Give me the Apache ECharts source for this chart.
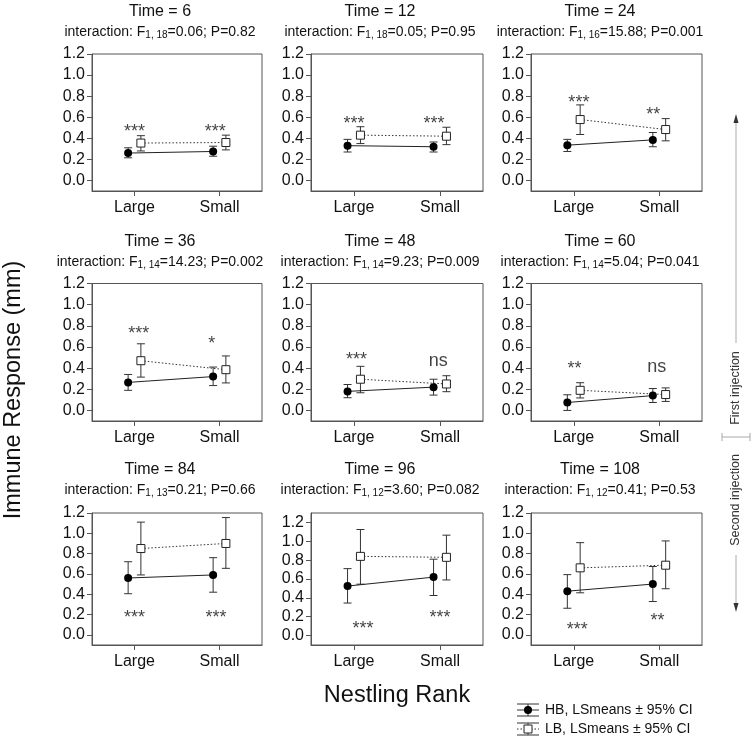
<!DOCTYPE html>
<html><head><meta charset="utf-8">
<script src="https://cdn.jsdelivr.net/npm/echarts@6/dist/echarts.min.js"></script>
<style>html,body{margin:0;padding:0;background:#fff}#c{width:754px;height:741px}</style>
</head><body><div id="c"></div>
<script>
// ---------- DATA ----------
const times = [6, 12, 24, 36, 48, 60, 84, 96, 108];
const rankLabels = ['Large', 'Small'];
const dfText = ['1, 18', '1, 18', '1, 16', '1, 14', '1, 14', '1, 14', '1, 13', '1, 12', '1, 12'];
const fText = ['0.06', '0.05', '15.88', '14.23', '9.23', '5.04', '0.21', '3.60', '0.41'];
const pText = ['0.82', '0.95', '0.001', '0.002', '0.009', '0.041', '0.66', '0.082', '0.53'];

// HB: [Large, Small]
const hbMean = [[0.26, 0.275], [0.33, 0.32], [0.335, 0.385], [0.265, 0.32], [0.18, 0.22], [0.075, 0.14], [0.56, 0.59], [0.525, 0.62], [0.43, 0.50]];
const hbLow  = [[0.215, 0.23], [0.27, 0.27], [0.275, 0.32], [0.19, 0.235], [0.12, 0.145], [0.0, 0.075], [0.405, 0.42], [0.345, 0.425], [0.262, 0.328]];
const hbHigh = [[0.31, 0.325], [0.39, 0.365], [0.39, 0.455], [0.34, 0.41], [0.245, 0.295], [0.148, 0.207], [0.72, 0.76], [0.71, 0.81], [0.593, 0.673]];
// LB: [Large, Small]
const lbMean = [[0.355, 0.36], [0.43, 0.42], [0.578, 0.483], [0.47, 0.385], [0.295, 0.25], [0.19, 0.15], [0.85, 0.90], [0.84, 0.83], [0.66, 0.686]];
const lbLow  = [[0.28, 0.29], [0.35, 0.34], [0.436, 0.376], [0.315, 0.26], [0.167, 0.177], [0.118, 0.085], [0.59, 0.655], [0.545, 0.59], [0.414, 0.454]];
const lbHigh = [[0.425, 0.43], [0.51, 0.505], [0.717, 0.587], [0.63, 0.515], [0.417, 0.328], [0.262, 0.213], [1.11, 1.155], [1.125, 1.065], [0.908, 0.925]];

// significance annotations [Large, Small]
const sigText = [['***', '***'], ['***', '***'], ['***', '**'], ['***', '*'], ['***', 'ns'], ['**', 'ns'], ['***', '***'], ['***', '***'], ['***', '**']];
const sigX = [[1.0, 1.95], [1.0, 1.93], [1.06, 1.93], [1.05, 1.91], [1.03, 1.98], [1.01, 1.97], [1.0, 1.96], [1.105, 2.0], [1.04, 1.98]];
const sigY = [[0.51, 0.51], [0.587, 0.587], [0.78, 0.67], [0.767, 0.672], [0.52, 0.467], [0.443, 0.41], [0.215, 0.215], [0.127, 0.234], [0.10, 0.19]];

const yTicks = [0, 0.2, 0.4, 0.6, 0.8, 1.0, 1.2];
const yMax = [1.2, 1.2, 1.2, 1.2, 1.2, 1.2, 1.2, 1.3, 1.2];

// ---------- LAYOUT ----------
const FONT = "'Liberation Sans', Arial, Helvetica, sans-serif";
const colLeft = [92, 311, 531], colWidth = [170, 172, 171];
const rowTop = [54, 283.5, 513], rowHeight = [137, 137.5, 132];
const titleX = [160, 380, 600], titleY = [12, 242, 470], subY = [32, 262, 490];
const OFF = 0.075;
const INK = '#111';

function errRender(params, api) {
  const x = api.value(0), lo = api.value(1), hi = api.value(2);
  const a = api.coord([x, lo]), b = api.coord([x, hi]);
  const w = 4, st = { stroke: '#333', lineWidth: 1 };
  return { type: 'group', children: [
    { type: 'line', shape: { x1: a[0], y1: a[1], x2: b[0], y2: b[1] }, style: st },
    { type: 'line', shape: { x1: a[0] - w, y1: a[1], x2: a[0] + w, y2: a[1] }, style: st },
    { type: 'line', shape: { x1: b[0] - w, y1: b[1], x2: b[0] + w, y2: b[1] }, style: st }
  ]};
}

function txt(x, y, text, size, extra, fill) {
  return Object.assign({ type: 'text', x: x, y: y, silent: true,
    style: { text: text, fontSize: size, fontFamily: FONT, fill: fill || INK,
      textAlign: 'center', align: 'center', textVerticalAlign: 'middle', verticalAlign: 'middle' } }, extra || {});
}

const grid = [], xAxis = [], yAxis = [], series = [], graphic = [];
for (let i = 0; i < 9; i++) {
  const r = Math.floor(i / 3), c = i % 3;
  grid.push({ left: colLeft[c], top: rowTop[r], width: colWidth[c], height: rowHeight[r],
    show: true, borderColor: '#555', borderWidth: 1, backgroundColor: 'transparent' });
  xAxis.push({ gridIndex: i, type: 'value', min: 0.5, max: 2.5,
    axisLine: { show: true, onZero: false, lineStyle: { color: '#555', width: 1 } },
    axisTick: { show: true, length: 5, customValues: [1, 2], lineStyle: { color: '#555' } },
    axisLabel: { customValues: [1, 2], formatter: v => rankLabels[Math.round(v) - 1],
      fontSize: 16, color: INK, margin: 9, fontFamily: FONT },
    splitLine: { show: false } });
  yAxis.push({ gridIndex: i, type: 'value', min: -0.1, max: yMax[i],
    axisLine: { show: true, onZero: false, lineStyle: { color: '#555', width: 1 } },
    axisTick: { show: true, length: 5, customValues: yTicks, lineStyle: { color: '#555' } },
    axisLabel: { customValues: yTicks, formatter: v => v.toFixed(1),
      fontSize: 16, color: INK, margin: 7, fontFamily: FONT },
    splitLine: { show: false } });

  series.push({ type: 'custom', xAxisIndex: i, yAxisIndex: i, renderItem: errRender, silent: true, z: 1,
    encode: { x: 0, y: [1, 2] },
    data: [[1 - OFF, hbLow[i][0], hbHigh[i][0]], [2 - OFF, hbLow[i][1], hbHigh[i][1]]] });
  series.push({ type: 'custom', xAxisIndex: i, yAxisIndex: i, renderItem: errRender, silent: true, z: 1,
    encode: { x: 0, y: [1, 2] },
    data: [[1 + OFF, lbLow[i][0], lbHigh[i][0]], [2 + OFF, lbLow[i][1], lbHigh[i][1]]] });
  series.push({ type: 'line', xAxisIndex: i, yAxisIndex: i, z: 3, silent: true,
    data: [[1 - OFF, hbMean[i][0]], [2 - OFF, hbMean[i][1]]],
    symbol: 'circle', symbolSize: 8, showAllSymbol: true,
    itemStyle: { color: '#000' }, lineStyle: { color: '#222', width: 1 } });
  series.push({ type: 'line', xAxisIndex: i, yAxisIndex: i, z: 3, silent: true,
    data: [[1 + OFF, lbMean[i][0]], [2 + OFF, lbMean[i][1]]],
    symbol: 'rect', symbolSize: 8, showAllSymbol: true,
    itemStyle: { color: '#fff', borderColor: '#222', borderWidth: 1 },
    lineStyle: { color: '#333', width: 1, type: [1.5, 2] } });
  series.push({ type: 'scatter', xAxisIndex: i, yAxisIndex: i, z: 4, silent: true,
    symbolSize: 1, itemStyle: { color: 'rgba(0,0,0,0)' },
    label: { show: true, position: 'inside', formatter: p => p.data.value[2],
      fontSize: 18, color: INK, fontFamily: FONT },
    data: [0, 1].map(k => {
      const t = sigText[i][k];
      return { value: [sigX[i][k], sigY[i][k], t], label: { offset: t.indexOf('*') >= 0 ? [0, 5] : [0, 0] } };
    }) });

  graphic.push(txt(titleX[c], titleY[r], 'Time = ' + times[i], 16));
  const sub = 'interaction: F{sub|' + dfText[i] + '}=' + fText[i] + '; P=' + pText[i];
  graphic.push({ type: 'text', x: titleX[c], y: subY[r], silent: true,
    style: { text: sub, fontSize: 14, fontFamily: FONT, fill: INK, textAlign: 'center', align: 'center',
      textVerticalAlign: 'middle', verticalAlign: 'middle',
      rich: { sub: { fontSize: 10, fontFamily: FONT, fill: INK, padding: [7, 0, 0, 0] } } } });
}

// axis titles
graphic.push(txt(14, 390, 'Immune Response (mm)', 23.5, { rotation: Math.PI / 2 }));
graphic.push(txt(397, 696, 'Nestling Rank', 23.5));

// injection annotation on the right
const AX = 736, GREY = '#aaa';
graphic.push({ type: 'line', silent: true, shape: { x1: AX, y1: 343, x2: AX, y2: 120 }, style: { stroke: GREY, lineWidth: 1 } });
graphic.push({ type: 'polygon', silent: true, shape: { points: [[AX, 114], [AX - 2.5, 123], [AX + 2.5, 123]] }, style: { fill: '#333' } });
graphic.push(txt(AX, 388, 'First injection', 12.5, { rotation: Math.PI / 2 }, '#333'));
graphic.push({ type: 'line', silent: true, shape: { x1: 722, y1: 437, x2: 750, y2: 437 }, style: { stroke: GREY, lineWidth: 1 } });
graphic.push({ type: 'line', silent: true, shape: { x1: 722, y1: 433, x2: 722, y2: 441 }, style: { stroke: GREY, lineWidth: 1 } });
graphic.push({ type: 'line', silent: true, shape: { x1: 750, y1: 433, x2: 750, y2: 441 }, style: { stroke: GREY, lineWidth: 1 } });
graphic.push(txt(AX, 500, 'Second injection', 12.5, { rotation: Math.PI / 2 }, '#333'));
graphic.push({ type: 'line', silent: true, shape: { x1: AX, y1: 555, x2: AX, y2: 606 }, style: { stroke: GREY, lineWidth: 1 } });
graphic.push({ type: 'polygon', silent: true, shape: { points: [[AX, 612], [AX - 2.5, 603], [AX + 2.5, 603]] }, style: { fill: '#333' } });

// legend (drawn manually: error-bar glyphs)
const LX0 = 517, LX1 = 539, LXM = 528;
const legendRows = [{ y: 710, label: 'HB, LSmeans ± 95% CI', dotted: false }, { y: 729, label: 'LB, LSmeans ± 95% CI', dotted: true }];
legendRows.forEach(row => {
  const st = { stroke: '#333', lineWidth: 1 };
  graphic.push({ type: 'line', silent: true, shape: { x1: LX0, y1: row.y - 6, x2: LX1, y2: row.y - 6 }, style: st });
  graphic.push({ type: 'line', silent: true, shape: { x1: LX0, y1: row.y + 6, x2: LX1, y2: row.y + 6 }, style: st });
  graphic.push({ type: 'line', silent: true, shape: { x1: LXM, y1: row.y - 6, x2: LXM, y2: row.y + 6 }, style: st });
  graphic.push({ type: 'line', silent: true, shape: { x1: LX0, y1: row.y, x2: LX1, y2: row.y },
    style: { stroke: '#333', lineWidth: 1, lineDash: row.dotted ? [1.5, 2] : null } });
  if (row.dotted) {
    graphic.push({ type: 'rect', silent: true, shape: { x: LXM - 4, y: row.y - 4, width: 8, height: 8 }, style: { fill: '#fff', stroke: '#222', lineWidth: 1 } });
  } else {
    graphic.push({ type: 'circle', silent: true, shape: { cx: LXM, cy: row.y, r: 4 }, style: { fill: '#000' } });
  }
  graphic.push({ type: 'text', silent: true, x: 545, y: row.y,
    style: { text: row.label, fontSize: 14, fontFamily: FONT, fill: INK, textAlign: 'left', align: 'left', textVerticalAlign: 'middle', verticalAlign: 'middle' } });
});

const chart = echarts.init(document.getElementById('c'), null, { renderer: 'canvas' });
chart.setOption({ animation: false, backgroundColor: '#fff', grid, xAxis, yAxis, series, graphic });
</script>
</body></html>
